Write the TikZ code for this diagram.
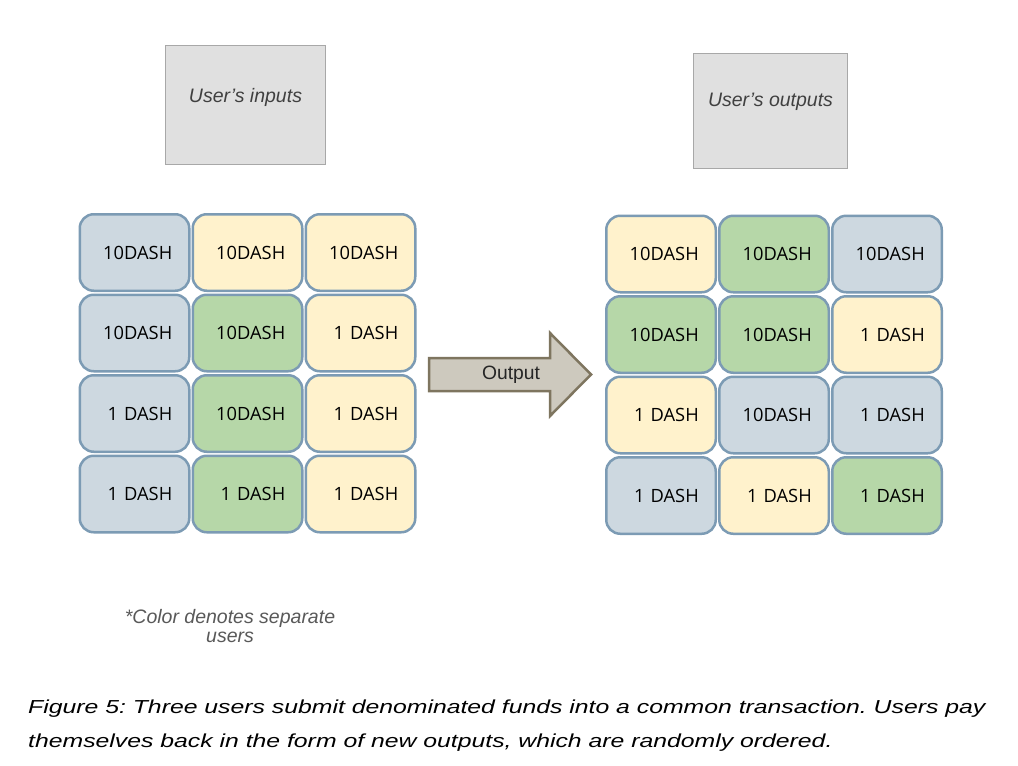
\documentclass[tikz,border=0pt]{standalone}
\usepackage{graphicx}
\usepackage{fontspec}
\setmainfont{Liberation Sans}
\newfontfamily\cellfont{Open Sans}
\definecolor{cblue}{RGB}{205,216,224}
\definecolor{cyel}{RGB}{255,242,204}
\definecolor{cgrn}{RGB}{182,215,168}
\definecolor{cbord}{RGB}{124,155,180}
\definecolor{gbox}{RGB}{224,224,224}
\definecolor{gbord}{RGB}{168,168,168}
\definecolor{arfill}{RGB}{205,201,190}
\definecolor{arbord}{RGB}{126,117,95}
\frenchspacing
\tikzset{
  cell/.style={draw=cbord, line width=2.5pt, rounded corners=14pt, minimum width=109.5pt, minimum height=76.5pt, inner sep=0pt, font=\cellfont\fontsize{18.3}{20}\selectfont, text=black,
    text width=75.5pt, align=right},
  B/.style={cell, fill=cblue},
  Y/.style={cell, fill=cyel},
  G/.style={cell, fill=cgrn},
  userbox/.style={draw=gbord, line width=1.5pt, fill=gbox, inner sep=0pt},
  boxtext/.style={font=\itshape\fontsize{19.5}{21}\selectfont, text=black!75},
  captext/.style={anchor=base west, font=\itshape\fontsize{18.8}{22}\selectfont, text=black, inner sep=0pt},
}
\begin{document}
\begin{tikzpicture}[x=1pt, y=-1pt]
\useasboundingbox[fill=white] (0,0) rectangle (1018,766);
% user boxes
\node[userbox, minimum width=160pt, minimum height=119pt] (inbox) at (245.5,105) {};
\node[boxtext] (intext) at (245.5,97) {User's inputs};
\node[userbox, minimum width=154pt, minimum height=115pt] (outbox) at (770.5,111) {};
\node[boxtext] (outtext) at (770.5,102) {User's outputs};
% left grid
\node[B] (L11) at (134.5,252.5) {10DASH};
\node[Y] (L12) at (247.5,252.5) {10DASH};
\node[Y] (L13) at (360.5,252.5) {10DASH};
\node[B] (L21) at (134.5,333) {10DASH};
\node[G] (L22) at (247.5,333) {10DASH};
\node[Y] (L23) at (360.5,333) {1 DASH};
\node[B] (L31) at (134.5,413.5) {1 DASH};
\node[G] (L32) at (247.5,413.5) {10DASH};
\node[Y] (L33) at (360.5,413.5) {1 DASH};
\node[B] (L41) at (134.5,494) {1 DASH};
\node[G] (L42) at (247.5,494) {1 DASH};
\node[Y] (L43) at (360.5,494) {1 DASH};
% right grid
\node[Y] (R11) at (661,254) {10DASH};
\node[G] (R12) at (774,254) {10DASH};
\node[B] (R13) at (887,254) {10DASH};
\node[G] (R21) at (661,334.5) {10DASH};
\node[G] (R22) at (774,334.5) {10DASH};
\node[Y] (R23) at (887,334.5) {1 DASH};
\node[Y] (R31) at (661,415) {1 DASH};
\node[B] (R32) at (774,415) {10DASH};
\node[B] (R33) at (887,415) {1 DASH};
\node[B] (R41) at (661,495.5) {1 DASH};
\node[Y] (R42) at (774,495.5) {1 DASH};
\node[G] (R43) at (887,495.5) {1 DASH};
% arrow
\draw[fill=arfill, draw=arbord, line width=2.5pt, line join=miter]
  (429,358) -- (550,358) -- (550,333) -- (591,374.5) -- (550,416) -- (550,391) -- (429,391) -- cycle;
\node[font=\fontsize{19.3}{21}\selectfont, text=black!85] (outlbl) at (511,375) {Output};
% footnote
\node[align=center, font=\itshape\fontsize{19.5}{19}\selectfont, text=black!65] (note) at (230,626.5) {*Color denotes separate\\users};
% caption
\node[captext] (cap1) at (28,713) {\scalebox{1.318}[1]{Figure 5: Three users submit denominated funds into a common transaction. Users pay}};
\node[captext] (cap2) at (28,747) {\scalebox{1.318}[1]{themselves back in the form of new outputs, which are randomly ordered.}};
\end{tikzpicture}
\end{document}
